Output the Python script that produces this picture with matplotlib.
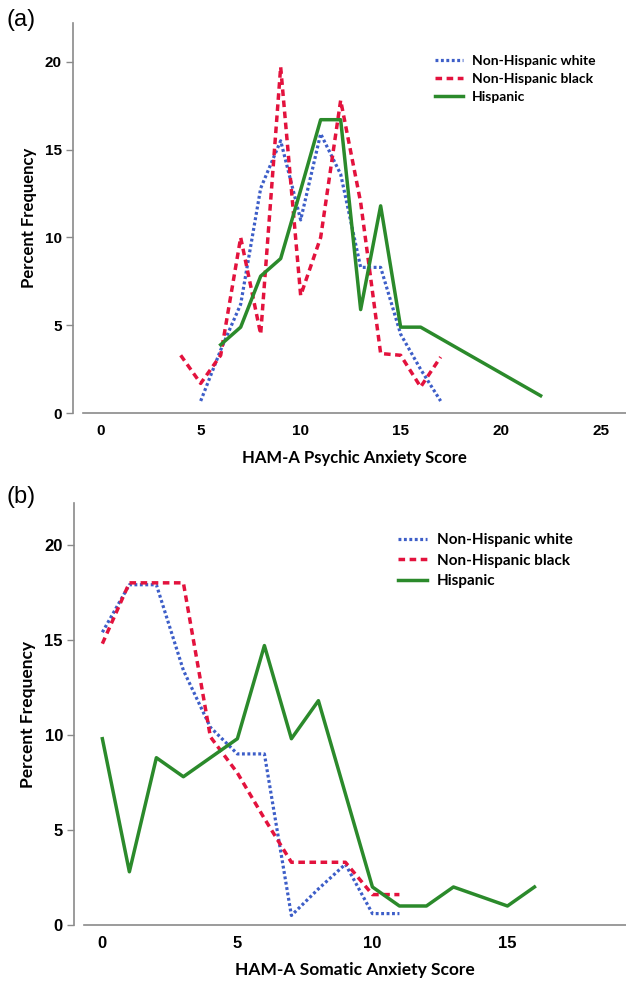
import matplotlib
matplotlib.use("Agg")
import matplotlib.pyplot as plt

# ---------------- data ----------------
series_names = ["Non-Hispanic white", "Non-Hispanic black", "Hispanic"]

# Panel (a): HAM-A Psychic Anxiety Score
a_white_x = [5, 6, 7, 8, 9, 10, 11, 12, 13, 14, 15, 16, 17]
a_white_y = [0.7, 3.6, 6.2, 12.8, 15.5, 11.0, 15.9, 13.6, 8.3, 8.3, 4.5, 2.5, 0.7]
a_black_x = [4, 5, 6, 7, 8, 9, 10, 11, 12, 13, 14, 15, 16, 17]
a_black_y = [3.3, 1.7, 3.3, 10.0, 4.5, 19.7, 6.7, 10.0, 17.8, 12.0, 3.4, 3.3, 1.5, 3.2]
a_hisp_x = [6, 7, 8, 9, 10, 11, 12, 13, 14, 15, 16, 22]
a_hisp_y = [3.9, 4.9, 7.8, 8.8, 12.7, 16.7, 16.7, 5.9, 11.8, 4.9, 4.9, 1.0]

# Panel (b): HAM-A Somatic Anxiety Score
b_white_x = [0, 1, 2, 3, 4, 5, 6, 7, 8, 9, 10, 11]
b_white_y = [15.4, 17.9, 17.9, 13.4, 10.4, 9.0, 9.0, 0.5, 1.9, 3.2, 0.6, 0.6]
b_black_x = [0, 1, 2, 3, 4, 5, 6, 7, 8, 9, 10, 11]
b_black_y = [14.8, 18.0, 18.0, 18.0, 9.9, 8.0, 5.6, 3.3, 3.3, 3.3, 1.6, 1.6]
b_hisp_x = [0, 1, 2, 3, 4, 5, 6, 7, 8, 9, 10, 11, 12, 13, 14, 15, 16]
b_hisp_y = [9.8, 2.8, 8.8, 7.8, 8.8, 9.8, 14.7, 9.8, 11.8, 6.9, 2.0, 1.0, 1.0, 2.0, 1.5, 1.0, 2.0]

a_xticks = [0, 5, 10, 15, 20, 25]
b_xticks = [0, 5, 10, 15]
yticks = [0, 5, 10, 15, 20]

# ---------------- style ----------------
W, H = 626, 982
DPI = 100
fig = plt.figure(figsize=(W / DPI, H / DPI), dpi=DPI)
fig.patch.set_facecolor("white")

BLUE = "#3d5ec8"
RED = "#e3123d"
GREEN = "#2b8a2b"
SPINE = "#8a8a8a"
LW = 2.3

def px_axes(left, top, right, bottom):
    return [left / W, 1 - bottom / H, (right - left) / W, (bottom - top) / H]

def style_axes(ax, tick_fs, xlabel, label_fs):
    for s in ["top", "right"]:
        ax.spines[s].set_visible(False)
    ax.spines["left"].set_position(("outward", 7.2))
    ax.spines["left"].set_color(SPINE)
    ax.spines["bottom"].set_color(SPINE)
    ax.spines["left"].set_linewidth(1.2)
    ax.spines["bottom"].set_linewidth(1.2)
    ax.tick_params(axis="y", length=5, width=1.0, color=SPINE, pad=3)
    ax.tick_params(axis="x", length=0, pad=8)
    for lab in ax.get_xticklabels() + ax.get_yticklabels():
        lab.set_fontfamily("Liberation Sans")
        lab.set_fontweight("bold")
        lab.set_fontsize(tick_fs)
    ax.set_xlabel(xlabel, fontfamily="Lato", fontweight="bold", fontsize=label_fs, labelpad=8)
    ax.set_ylabel("Percent Frequency", fontfamily="Lato", fontweight="bold", fontsize=label_fs, labelpad=6)

def draw(ax, wx, wy, bx, by, hx, hy):
    ax.plot(wx, wy, color=BLUE, lw=LW, linestyle=(0, (0.9, 0.8)), label=series_names[0])
    ax.plot(bx, by, color=RED, lw=LW + 0.2, linestyle=(0, (1.9, 1.3)), label=series_names[1])
    ax.plot(hx, hy, color=GREEN, lw=LW + 0.2, linestyle="-", label=series_names[2])

# Panel (a)
ax1 = fig.add_axes(px_axes(83, 23, 626, 413.3))
draw(ax1, a_white_x, a_white_y, a_black_x, a_black_y, a_hisp_x, a_hisp_y)
ax1.set_xlim(-0.885, 26.27)
ax1.set_ylim(0, 22.2)
ax1.set_xticks(a_xticks)
ax1.set_yticks(yticks)
style_axes(ax1, 11, "HAM-A Psychic Anxiety Score", 12)
leg1 = ax1.legend(loc="upper left", bbox_to_anchor=(435 / W, 1 - 55 / H),
                  bbox_transform=fig.transFigure, frameon=False,
                  prop={"family": "Lato", "weight": "bold", "size": 10},
                  handlelength=2.0, handletextpad=0.65, labelspacing=0.42,
                  borderpad=0, borderaxespad=0)

# Panel (b)
ax2 = fig.add_axes(px_axes(84, 503, 626, 925))
draw(ax2, b_white_x, b_white_y, b_black_x, b_black_y, b_hisp_x, b_hisp_y)
ax2.set_xlim(-0.68, 19.39)
ax2.set_ylim(0, 22.2)
ax2.set_xticks(b_xticks)
ax2.set_yticks(yticks)
style_axes(ax2, 12, "HAM-A Somatic Anxiety Score", 12.5)
leg2 = ax2.legend(loc="upper left", bbox_to_anchor=(398 / W, 1 - 533 / H),
                  bbox_transform=fig.transFigure, frameon=False,
                  prop={"family": "Lato", "weight": "bold", "size": 11},
                  handlelength=1.9, handletextpad=0.65, labelspacing=0.44,
                  borderpad=0, borderaxespad=0)

fig.text(6 / W, 1 - 20 / H, "(a)", fontfamily="Liberation Sans", fontsize=17, va="center", ha="left")
fig.text(6 / W, 1 - 497 / H, "(b)", fontfamily="Liberation Sans", fontsize=17, va="center", ha="left")

fig.savefig("out.png", dpi=DPI)
